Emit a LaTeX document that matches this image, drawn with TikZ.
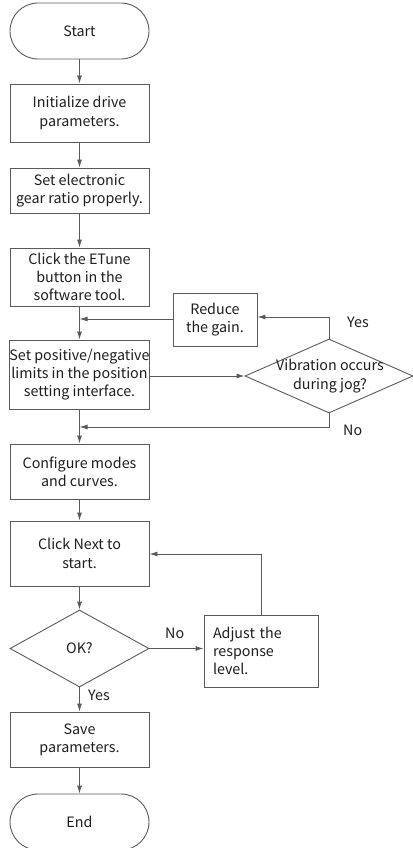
\documentclass[tikz,border=0pt]{standalone}
\usepackage{fontspec}
\setmainfont{Noto Sans CJK SC}
\usetikzlibrary{shapes.geometric,arrows.meta}
\definecolor{linegray}{HTML}{5A5A5A}
\definecolor{textgray}{HTML}{1E1E1E}
\tikzset{
  x=1pt, y=-1pt,
  txt/.style={text=textgray, font=\fontsize{14.3}{18.3}\selectfont, align=center, inner sep=0pt},
  base/.style={txt, draw=linegray, line width=0.9pt},
  terminal/.style={base, rectangle, rounded corners=28pt, minimum width=139pt, minimum height=56pt},
  procbox/.style={base, rectangle, minimum width=139pt},
  decision/.style={draw=linegray, line width=0.9pt, diamond, inner sep=0pt},
  flow/.style={draw=linegray, line width=0.9pt, -{Latex[length=8pt,width=5pt]}},
  lbl/.style={txt}
}
\begin{document}
\begin{tikzpicture}
\useasboundingbox (0,0) rectangle (412,848);

% main column
\node[terminal] (start) at (79.5,31) {Start};
\node[procbox, minimum height=58pt] (init) at (79.5,113) {Initialize drive\\parameters.};
\node[procbox, minimum height=45pt] (gear) at (79.5,190.5) {Set electronic\\gear ratio properly.};
\node[procbox, minimum height=58pt] (etune) at (79.5,277) {Click the ETune\\button in the\\software tool.};
\node[procbox, minimum height=69pt] (limits) at (79.5,374.5) {Set positive/negative\\limits in the position\\setting interface.};
\node[procbox, minimum height=55pt] (config) at (79.5,471.5) {Configure modes\\and curves.};
\node[procbox, minimum height=65pt] (next) at (79.5,553.5) {Click Next to\\start.};
\node[decision, minimum width=139pt, minimum height=77pt] (ok) at (79.5,648.5) {};
\node[txt] (oktext) at (ok.center) {OK?};
\node[procbox, minimum height=55pt] (save) at (79.5,739.5) {Save\\parameters.};
\node[terminal] (end) at (79.5,822) {End};

% side branch for vibration tuning
\node[base, rectangle, minimum width=84pt, minimum height=53pt] (reduce) at (215,319.5) {Reduce\\the gain.};
\node[decision, minimum width=168pt, minimum height=74pt] (vib) at (329,376) {};
\node[txt] (vibtext) at (330,376) {Vibration occurs\\during jog?};

% side branch for response level
\node[base, rectangle, minimum width=114pt, minimum height=72pt, align=left, text width=96pt] (adjust) at (261,651) {Adjust the\\response\\level.};

% join points on the main column
\coordinate (j1) at (79.5,319);
\coordinate (j2) at (79.5,427);
\coordinate (vibyes) at (329,317);
\coordinate (vibno) at (329,427);
\coordinate (adjup) at (261,554);

% main flow
\draw[flow] (start) -- (init);
\draw[flow] (init) -- (gear);
\draw[flow] (gear) -- (etune);
\draw[flow] (etune) -- (limits);
\draw[flow] (limits) -- (config);
\draw[flow] (config) -- (next);
\draw[flow] (next) -- (ok);
\draw[flow] (ok) -- (save);
\draw[flow] (save) -- (end);

% vibration check loop
\draw[flow] (limits.east |- vib.west) -- (vib.west);
\draw[flow] (vib.north) -- (vibyes) -- (reduce.east |- vibyes);
\draw[flow] (reduce.west |- j1) -- (j1);
\draw[flow] (vib.south) -- (vibno) -- (j2);

% response level loop
\draw[flow] (ok.east) -- (adjust.west |- ok.east);
\draw[flow] (adjust.north) -- (adjup) -- (next.east |- adjup);

% branch labels
\node[lbl, anchor=west] (lyes1) at (347,322) {Yes};
\node[lbl, anchor=west] (lno1) at (343,430) {No};
\node[lbl, anchor=west] (lno2) at (165,633) {No};
\node[lbl, anchor=west] (lyes2) at (88,695) {Yes};
\end{tikzpicture}
\end{document}
